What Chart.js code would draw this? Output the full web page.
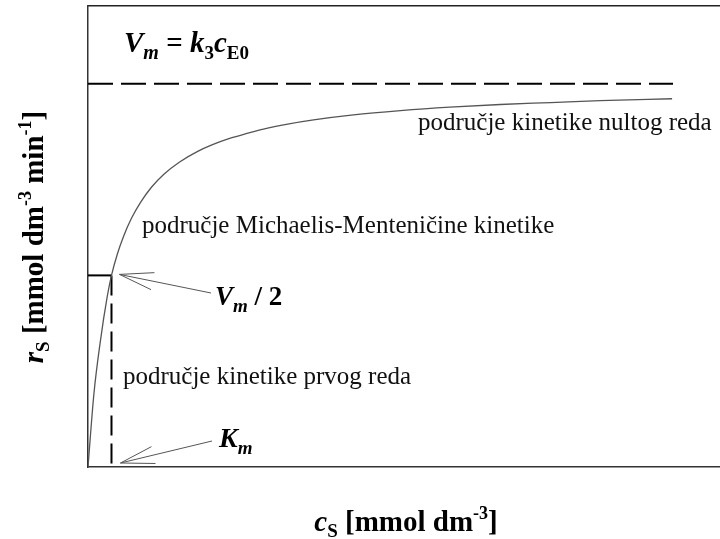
<!DOCTYPE html>
<html>
<head>
<meta charset="utf-8">
<script src="https://cdn.jsdelivr.net/npm/chart.js@4"></script>
<style>
  body { margin: 0; background: #fff; }
  canvas { display: block; }
</style>
</head>
<body>
<canvas id="mmChart" width="720" height="539"></canvas>
<script>
// values (c_S in units of K_m, r_S in units of V_m)
const cs = [0, 0.25, 0.53, 0.82, 1.0, 1.25, 1.52, 1.85, 2.23, 2.7, 3.23, 3.9, 4.65, 5.3, 6.06, 6.8, 7.47, 8.5, 9.6, 11.3, 13.3, 15.4, 17.55, 19.7, 21.8, 24.86];
const rs = [0, 0.19, 0.33, 0.445, 0.5, 0.556, 0.603, 0.649, 0.69, 0.73, 0.764, 0.796, 0.823, 0.841, 0.858, 0.871, 0.882, 0.895, 0.906, 0.919, 0.93, 0.939, 0.946, 0.951, 0.956, 0.961];
const vm = 1;
const km = 1;
const vmLineEnd = 24.9;
const xMax = 26.9;
const yMax = 1.203;

const serif = '"Liberation Serif", "Times New Roman", serif';

// draws a run of text pieces (sub/superscripts) starting at x, baseline y
function richText(ctx, parts, x, y, align) {
    let w = 0;
    parts.forEach(p => { ctx.font = p.font; w += ctx.measureText(p.t).width; });
    let cx = align === 'center' ? x - w / 2 : x;
    parts.forEach(p => {
        ctx.font = p.font;
        ctx.fillText(p.t, cx, y + (p.dy || 0));
        cx += ctx.measureText(p.t).width;
    });
}

function arrow(ctx, x1, y1, x2, y2) {
    const ang = Math.atan2(y2 - y1, x2 - x1);
    const len = 35, spread = 0.25;
    ctx.beginPath();
    ctx.moveTo(x1, y1);
    ctx.lineTo(x2, y2);
    ctx.moveTo(x2 - len * Math.cos(ang - spread), y2 - len * Math.sin(ang - spread));
    ctx.lineTo(x2, y2);
    ctx.lineTo(x2 - len * Math.cos(ang + spread), y2 - len * Math.sin(ang + spread));
    ctx.stroke();
}

const labelsPlugin = {
    id: 'labels',
    afterDraw(chart) {
        const ctx = chart.ctx;
        const xs = chart.scales.x, ys = chart.scales.y;
        const kx = xs.getPixelForValue(km);
        const hy = ys.getPixelForValue(vm / 2);
        const y0 = ys.getPixelForValue(0);
        ctx.save();
        ctx.fillStyle = '#000';
        ctx.textBaseline = 'alphabetic';

        const bi = s => 'italic bold ' + s + 'px ' + serif;
        const b = s => 'bold ' + s + 'px ' + serif;
        const r = s => s + 'px ' + serif;

        richText(ctx, [
            { t: 'V', font: bi(29) },
            { t: 'm', font: bi(20), dy: 7 },
            { t: ' = ', font: b(29) },
            { t: 'k', font: bi(29) },
            { t: '3', font: b(19), dy: 7 },
            { t: 'c', font: bi(29) },
            { t: 'E0', font: b(19), dy: 7 }
        ], 124, 52, 'left');

        richText(ctx, [
            { t: 'V', font: bi(27) },
            { t: 'm', font: bi(19), dy: 7 },
            { t: ' / 2', font: b(27) }
        ], 215, 305, 'left');

        richText(ctx, [
            { t: 'K', font: bi(28) },
            { t: 'm', font: bi(19), dy: 7 }
        ], 219, 447, 'left');

        ctx.fillStyle = '#111';
        ctx.font = r(25);
        ctx.fillText('područje kinetike nultog reda', 418, 130);
        ctx.fillText('područje Michaelis-Menteničine kinetike', 142, 233);
        ctx.fillText('područje kinetike prvog reda', 123, 384);

        // axis titles
        ctx.fillStyle = '#000';
        richText(ctx, [
            { t: 'c', font: bi(29) },
            { t: 'S', font: b(19), dy: 6 },
            { t: ' [mmol dm', font: b(29) },
            { t: '-3', font: b(18), dy: -12 },
            { t: ']', font: b(29) }
        ], 406, 531, 'center');

        ctx.save();
        ctx.translate(43, 237);
        ctx.rotate(-Math.PI / 2);
        richText(ctx, [
            { t: 'r', font: bi(29) },
            { t: 'S', font: b(19), dy: 6 },
            { t: ' [mmol dm', font: b(29) },
            { t: '-3', font: b(18), dy: -12 },
            { t: ' min', font: b(29) },
            { t: '-1', font: b(18), dy: -12 },
            { t: ']', font: b(29) }
        ], 0, 0, 'center');
        ctx.restore();

        // arrows
        ctx.strokeStyle = '#555';
        ctx.lineWidth = 1;
        arrow(ctx, 211, 293, kx + 8, hy - 1);
        arrow(ctx, 212, 441, kx + 9, y0 - 4);
        ctx.restore();
    }
};

const noSizeX = s => { s.height = 0; };
const noSizeY = s => { s.width = 0; };

new Chart(document.getElementById('mmChart'), {
    type: 'line',
    data: {
        datasets: [
            {
                label: 'rS',
                data: cs.map((c, i) => ({ x: c, y: rs[i] })),
                borderColor: '#555',
                borderWidth: 1.3,
                pointRadius: 0,
                cubicInterpolationMode: 'monotone'
            },
            {
                label: 'Vm',
                data: [{ x: 0, y: vm }, { x: vmLineEnd, y: vm }],
                borderColor: '#000',
                borderWidth: 2,
                borderDash: [25, 8],
                pointRadius: 0
            },
            {
                label: 'Vm/2',
                data: [{ x: 0, y: vm / 2 }, { x: km, y: vm / 2 }],
                borderColor: '#000',
                borderWidth: 2,
                pointRadius: 0
            },
            {
                label: 'Km',
                data: [{ x: km, y: vm / 2 }, { x: km, y: 0 }],
                borderColor: '#000',
                borderWidth: 2,
                borderDash: [20, 8],
                pointRadius: 0
            }
        ]
    },
    options: {
        responsive: false,
        animation: false,
        layout: {
            padding: { left: 88, top: 6, right: 0, bottom: 72 }
        },
        scales: {
            x: {
                type: 'linear',
                min: 0,
                max: xMax,
                afterFit: noSizeX,
                grid: { display: false },
                ticks: { display: false },
                border: { color: '#333', width: 1.5 }
            },
            xTop: {
                type: 'linear',
                position: 'top',
                min: 0,
                max: xMax,
                afterFit: noSizeX,
                grid: { display: false },
                ticks: { display: false },
                border: { color: '#222', width: 1.5 }
            },
            y: {
                min: 0,
                max: yMax,
                afterFit: noSizeY,
                grid: { display: false },
                ticks: { display: false },
                border: { color: '#333', width: 1.5 }
            }
        },
        plugins: {
            legend: { display: false },
            tooltip: { enabled: false }
        }
    },
    plugins: [labelsPlugin]
});
</script>
</body>
</html>
